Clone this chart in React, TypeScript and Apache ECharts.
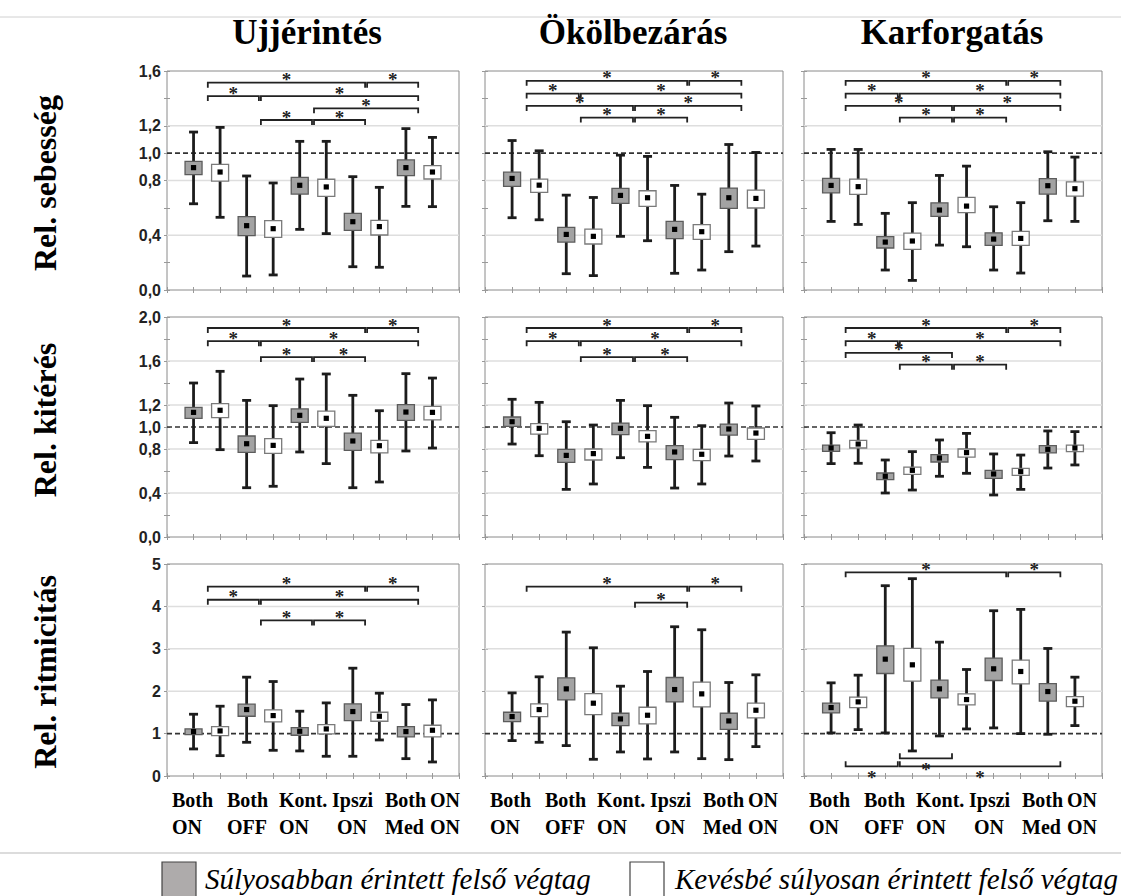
import React, { useEffect, useRef } from "react";
import * as echarts from "echarts";

// Each box: [low whisker, box bottom, centre, box top, high whisker]
const sebessegUjj = [
  [0.63, 0.843, 0.894, 0.94, 1.154],
  [0.531, 0.796, 0.862, 0.918, 1.188],
  [0.102, 0.397, 0.47, 0.536, 0.833],
  [0.11, 0.385, 0.448, 0.507, 0.782],
  [0.443, 0.701, 0.765, 0.823, 1.086],
  [0.412, 0.684, 0.753, 0.809, 1.086],
  [0.17, 0.436, 0.499, 0.56, 0.828],
  [0.166, 0.402, 0.463, 0.509, 0.75],
  [0.611, 0.835, 0.894, 0.95, 1.179],
  [0.609, 0.811, 0.862, 0.908, 1.115],
];
const sebessegOkol = [
  [0.528, 0.757, 0.815, 0.861, 1.092],
  [0.513, 0.713, 0.766, 0.81, 1.017],
  [0.119, 0.35, 0.406, 0.457, 0.693],
  [0.105, 0.336, 0.392, 0.445, 0.676],
  [0.392, 0.633, 0.691, 0.742, 0.985],
  [0.36, 0.611, 0.674, 0.725, 0.976],
  [0.122, 0.375, 0.443, 0.501, 0.764],
  [0.146, 0.37, 0.426, 0.477, 0.7],
  [0.28, 0.596, 0.674, 0.745, 1.063],
  [0.321, 0.599, 0.669, 0.73, 1.005],
];
const sebessegKar = [
  [0.501, 0.71, 0.764, 0.815, 1.027],
  [0.479, 0.698, 0.755, 0.81, 1.027],
  [0.146, 0.307, 0.35, 0.39, 0.56],
  [0.07, 0.297, 0.358, 0.416, 0.638],
  [0.328, 0.538, 0.584, 0.637, 0.837],
  [0.316, 0.565, 0.613, 0.676, 0.905],
  [0.146, 0.326, 0.372, 0.418, 0.608],
  [0.124, 0.326, 0.377, 0.428, 0.638],
  [0.506, 0.7, 0.762, 0.813, 1.01],
  [0.501, 0.686, 0.74, 0.79, 0.971],
];
const kiteresUjj = [
  [0.858, 1.079, 1.133, 1.179, 1.4],
  [0.794, 1.085, 1.152, 1.212, 1.506],
  [0.448, 0.77, 0.848, 0.918, 1.242],
  [0.461, 0.761, 0.833, 0.894, 1.194],
  [0.773, 1.042, 1.106, 1.164, 1.436],
  [0.667, 1.006, 1.079, 1.145, 1.482],
  [0.448, 0.788, 0.873, 0.945, 1.288],
  [0.5, 0.764, 0.83, 0.879, 1.148],
  [0.782, 1.061, 1.136, 1.203, 1.485],
  [0.809, 1.064, 1.133, 1.188, 1.445],
];
const kiteresOkol = [
  [0.845, 1.006, 1.048, 1.091, 1.252],
  [0.739, 0.936, 0.988, 1.03, 1.224],
  [0.433, 0.679, 0.742, 0.797, 1.048],
  [0.482, 0.7, 0.758, 0.8, 1.018],
  [0.721, 0.93, 0.988, 1.036, 1.242],
  [0.633, 0.864, 0.915, 0.967, 1.194],
  [0.445, 0.703, 0.773, 0.83, 1.088],
  [0.482, 0.694, 0.752, 0.797, 1.012],
  [0.736, 0.927, 0.982, 1.027, 1.218],
  [0.691, 0.888, 0.945, 0.991, 1.191],
];
const kiteresKar = [
  [0.667, 0.779, 0.809, 0.836, 0.948],
  [0.67, 0.809, 0.845, 0.879, 1.018],
  [0.4, 0.521, 0.552, 0.582, 0.7],
  [0.427, 0.57, 0.606, 0.636, 0.776],
  [0.552, 0.682, 0.718, 0.748, 0.882],
  [0.579, 0.727, 0.767, 0.8, 0.942],
  [0.382, 0.533, 0.573, 0.606, 0.755],
  [0.433, 0.561, 0.594, 0.624, 0.745],
  [0.627, 0.764, 0.797, 0.83, 0.964],
  [0.655, 0.776, 0.809, 0.836, 0.958],
];
const ritmUjj = [
  [0.638, 0.976, 1.047, 1.11, 1.457],
  [0.48, 0.953, 1.063, 1.165, 1.646],
  [0.795, 1.409, 1.567, 1.693, 2.331],
  [0.606, 1.276, 1.425, 1.559, 2.228],
  [0.591, 0.961, 1.055, 1.142, 1.528],
  [0.465, 0.992, 1.11, 1.213, 1.724],
  [0.465, 1.307, 1.52, 1.701, 2.543],
  [0.85, 1.291, 1.409, 1.504, 1.953],
  [0.409, 0.921, 1.047, 1.165, 1.685],
  [0.331, 0.921, 1.079, 1.197, 1.795],
];
const ritmOkol = [
  [0.835, 1.283, 1.402, 1.504, 1.96],
  [0.795, 1.402, 1.567, 1.701, 2.339],
  [0.717, 1.795, 2.055, 2.315, 3.394],
  [0.394, 1.449, 1.717, 1.945, 3.024],
  [0.567, 1.189, 1.346, 1.48, 2.118],
  [0.402, 1.228, 1.433, 1.622, 2.465],
  [0.567, 1.748, 2.039, 2.323, 3.52],
  [0.409, 1.63, 1.937, 2.213, 3.449],
  [0.386, 1.102, 1.299, 1.48, 2.205],
  [0.693, 1.37, 1.551, 1.717, 2.386],
];
const ritmKar = [
  [1.016, 1.488, 1.614, 1.717, 2.197],
  [1.094, 1.614, 1.748, 1.858, 2.378],
  [1.016, 2.417, 2.756, 3.071, 4.488],
  [0.591, 2.236, 2.622, 3.008, 4.654],
  [0.945, 1.843, 2.055, 2.26, 3.157],
  [1.11, 1.677, 1.803, 1.937, 2.512],
  [1.134, 2.252, 2.528, 2.78, 3.898],
  [1.0, 2.173, 2.465, 2.732, 3.929],
  [0.984, 1.764, 1.992, 2.181, 3.008],
  [1.189, 1.638, 1.764, 1.874, 2.331],
];

// Significance brackets: [from condition pair, to condition pair, level, direction (1 = ticks down, -1 = ticks up)]
const sigSebessegUjj = [[1, 4, 1.515], [4, 5, 1.515], [1, 2, 1.417], [2, 5, 1.417], [3, 5, 1.327], [2, 3, 1.242], [3, 4, 1.242]];
const sigSebessegOkol = [[1, 4, 1.528], [4, 5, 1.528], [1, 2, 1.435], [2, 5, 1.435], [1, 3, 1.345], [3, 5, 1.345], [2, 3, 1.26], [3, 4, 1.26]];
const sigSebessegKar = [[1, 4, 1.528], [4, 5, 1.528], [1, 2, 1.435], [2, 5, 1.435], [1, 3, 1.345], [3, 5, 1.345], [2, 3, 1.26], [3, 4, 1.26]];
const sigKiteresUjj = [[1, 4, 1.9], [4, 5, 1.9], [1, 2, 1.78], [2, 5, 1.78], [2, 3, 1.636], [3, 4, 1.636]];
const sigKiteresOkol = [[1, 4, 1.9], [4, 5, 1.9], [1, 2, 1.78], [2, 5, 1.78], [2, 3, 1.636], [3, 4, 1.636]];
const sigKiteresKar = [[1, 4, 1.9], [4, 5, 1.9], [1, 2, 1.78], [2, 5, 1.78], [1, 3, 1.673], [2, 3, 1.567], [3, 4, 1.567]];
const sigRitmUjj = [[1, 4, 4.465], [4, 5, 4.465], [1, 2, 4.157], [2, 5, 4.157], [2, 3, 3.669], [3, 4, 3.669]];
const sigRitmOkol = [[1, 4, 4.465], [4, 5, 4.465], [3, 4, 4.087]];
const sigRitmKar = [[1, 4, 4.803], [4, 5, 4.803], [1, 2, 0.228, -1], [2, 5, 0.228, -1], [2, 3, 0.417, -1]];

const columnTitles = ["Ujjérintés", "Ökölbezárás", "Karforgatás"];
const rowTitles = ["Rel. sebesség", "Rel. kitérés", "Rel. ritmicitás"];
const conditionLine1 = ["Both", "Both", "Kont.", "Ipszi", "Both", "ON"];
const conditionLine2 = ["ON", "OFF", "ON", "ON", "Med", "ON"];
const legendLabels = ["Súlyosabban érintett felső végtag", "Kevésbé súlyosan érintett felső végtag"];

const yMax = [1.6, 2.0, 5];
const yInterval = [0.2, 0.2, 1];
const yLabelValues = [
  [0, 0.4, 0.8, 1.0, 1.2, 1.6],
  [0, 0.4, 0.8, 1.0, 1.2, 1.6, 2.0],
  [0, 1, 2, 3, 4, 5],
];
const gridValues = [
  [0.4, 0.8, 1.2],
  [0.4, 0.8, 1.2, 1.6],
  [2, 3, 4],
];
const referenceValue = 1;

const panelData = [
  [sebessegUjj, sebessegOkol, sebessegKar],
  [kiteresUjj, kiteresOkol, kiteresKar],
  [ritmUjj, ritmOkol, ritmKar],
];
const panelSig = [
  [sigSebessegUjj, sigSebessegOkol, sigSebessegKar],
  [sigKiteresUjj, sigKiteresOkol, sigKiteresKar],
  [sigRitmUjj, sigRitmOkol, sigRitmKar],
];

// layout (pixels)
const colLeft = [167, 485, 804];
const colWidth = [292, 298, 298];
const rowTop = [71, 317, 564];
const rowHeight = [219, 220, 212];
const titleX = [307, 633, 952];
const rowTitleY = [183, 420, 672];
const line1Offsets = [5, 60, 112, 165, 218, 263];
const line2Offsets = [5, 60, 112, 170, 218, 263];

const SERIF = "'Liberation Serif', 'Times New Roman', serif";
const SANS = "'Liberation Sans', Arial, sans-serif";

const renderBox = (params: any, api: any) => {
  const x = api.value(0);
  const lo = api.coord([x, api.value(1)]);
  const b1 = api.coord([x, api.value(2)]);
  const c = api.coord([x, api.value(3)]);
  const b2 = api.coord([x, api.value(4)]);
  const hi = api.coord([x, api.value(5)]);
  const gray = api.value(6) === 0;
  const cx = lo[0];
  const w = 17;
  const cap = 9;
  const ink = "#1c1c1c";
  return {
    type: "group",
    children: [
      { type: "line", shape: { x1: cx, y1: hi[1], x2: cx, y2: lo[1] }, style: { stroke: ink, lineWidth: 2.8 } },
      { type: "line", shape: { x1: cx - cap / 2, y1: hi[1], x2: cx + cap / 2, y2: hi[1] }, style: { stroke: ink, lineWidth: 2.8 } },
      { type: "line", shape: { x1: cx - cap / 2, y1: lo[1], x2: cx + cap / 2, y2: lo[1] }, style: { stroke: ink, lineWidth: 2.8 } },
      {
        type: "rect",
        shape: { x: cx - w / 2, y: b2[1], width: w, height: b1[1] - b2[1] },
        style: { fill: gray ? "#a3a3a3" : "#ffffff", stroke: gray ? "#5c5c5c" : "#7a7a7a", lineWidth: 1.3 },
      },
      { type: "rect", shape: { x: cx - 2.6, y: c[1] - 2.6, width: 5.2, height: 5.2 }, style: { fill: "#000" } },
    ],
  };
};

const renderBracket = (params: any, api: any) => {
  const x1 = api.value(0);
  const x2 = api.value(1);
  const y = api.value(2);
  const dir = api.value(3);
  const shift = api.value(4);
  const p1 = api.coord([x1, y]);
  const p2 = api.coord([x2, y]);
  const t = 5 * dir;
  return {
    type: "group",
    children: [
      {
        type: "polyline",
        shape: { points: [[p1[0] + 1, p1[1] + t], [p1[0] + 1, p1[1]], [p2[0] - 1, p2[1]], [p2[0] - 1, p2[1] + t]] },
        style: { stroke: "#222", lineWidth: 1.8, fill: "none" },
      },
      {
        type: "text",
        x: (p1[0] + p2[0]) / 2 + shift,
        y: dir > 0 ? p1[1] - 3 : p1[1] + 11,
        style: { text: "*", fontSize: 19, fontWeight: "bold", fontFamily: SERIF, fill: "#222", align: "center", verticalAlign: "middle" },
      },
    ],
  };
};

const renderGridLine = (params: any, api: any) => {
  const v = api.value(0);
  const dashed = api.value(1) === 1;
  const cs = params.coordSys;
  const y = api.coord([0, v])[1];
  return {
    type: "line",
    shape: { x1: cs.x, y1: y, x2: cs.x + cs.width, y2: y },
    style: dashed ? { stroke: "#333", lineWidth: 1.6, lineDash: [5, 3] } : { stroke: "#dedede", lineWidth: 1.5 },
  };
};

export default function App() {
  const ref = useRef<HTMLDivElement>(null);
  useEffect(() => {
    if (!ref.current) return;
    const chart = echarts.init(ref.current, undefined, { renderer: "svg" });
    const grids: any[] = [];
    const xAxes: any[] = [];
    const yAxes: any[] = [];
    const series: any[] = [];
    const tickStyle = { show: true, inside: true, length: 3, lineStyle: { color: "#999" } };
    for (let r = 0; r < 3; r++) {
      for (let c = 0; c < 3; c++) {
        const g = grids.length;
        grids.push({
          left: colLeft[c], top: rowTop[r], width: colWidth[c], height: rowHeight[r],
          show: true, borderColor: "#8a8a8a", borderWidth: 1, backgroundColor: "transparent",
        });
        const xBase = { type: "value", gridIndex: g, min: 0, max: 11, interval: 1, axisLine: { show: false }, axisLabel: { show: false }, splitLine: { show: false }, axisTick: tickStyle };
        xAxes.push({ ...xBase, position: "bottom" });
        xAxes.push({ ...xBase, position: "top" });
        const labels = yLabelValues[r];
        const yBase = {
          type: "value", gridIndex: g, min: 0, max: yMax[r], interval: yInterval[r],
          axisLine: { show: false }, splitLine: { show: false }, axisTick: tickStyle,
        };
        yAxes.push({
          ...yBase, position: "left",
          axisLabel: {
            show: c === 0, margin: 6, fontFamily: SANS, fontWeight: "bold", fontSize: 16, color: "#222",
            formatter: (v: number) => {
              const hit = labels.some((l) => Math.abs(l - v) < 1e-6);
              if (!hit) return "";
              return r === 2 ? String(Math.round(v)) : v.toFixed(1).replace(".", ",");
            },
          },
        });
        yAxes.push({ ...yBase, position: "right", axisLabel: { show: false } });
        const xi = 2 * g;
        const yi = 2 * g;
        series.push({
          type: "custom", xAxisIndex: xi, yAxisIndex: yi, z: 1, silent: true,
          renderItem: renderGridLine,
          data: gridValues[r].map((v) => [v, 0]),
        });
        series.push({
          type: "custom", xAxisIndex: xi, yAxisIndex: yi, z: 2, silent: true,
          renderItem: renderGridLine,
          data: [[referenceValue, 1]],
        });
        series.push({
          type: "custom", xAxisIndex: xi, yAxisIndex: yi, z: 3, silent: true,
          renderItem: renderBox,
          data: panelData[r][c].map((b, i) => [i + 1, b[0], b[1], b[2], b[3], b[4], i % 2]),
        });
        const pxPerUnit = rowHeight[r] / yMax[r];
        const brackets = panelSig[r][c].map((s: number[]) => ({
          x1: 2 * s[0] - 0.5, x2: 2 * s[1] - 0.5, y: s[2], d: s.length > 3 ? s[3] : 1,
        }));
        const bracketData = brackets.map((b, i) => {
          const mid = (b.x1 + b.x2) / 2;
          let shift = 0;
          brackets.forEach((o, j) => {
            if (j === i) return;
            const om = (o.x1 + o.x2) / 2;
            if (Math.abs(om - mid) < 0.3 && Math.abs(o.y - b.y) * pxPerUnit < 20) {
              shift = b.x2 - b.x1 > o.x2 - o.x1 ? -6 : 4;
            }
          });
          return [b.x1, b.x2, b.y, b.d, shift];
        });
        series.push({
          type: "custom", xAxisIndex: xi, yAxisIndex: yi, z: 4, silent: true,
          renderItem: renderBracket,
          data: bracketData,
        });
      }
    }

    const graphics: any[] = [];
    graphics.push({ type: "line", shape: { x1: 0, y1: 17, x2: 1121, y2: 17 }, style: { stroke: "#d0d0d0", lineWidth: 1 } });
    graphics.push({ type: "line", shape: { x1: 0, y1: 853, x2: 1121, y2: 853 }, style: { stroke: "#d0d0d0", lineWidth: 1.5 } });
    columnTitles.forEach((t, i) => {
      graphics.push({
        type: "text", x: titleX[i], y: 32,
        style: { text: t, fontFamily: SERIF, fontWeight: "bold", fontSize: 35, fill: "#000", align: "center", verticalAlign: "middle" },
      });
    });
    rowTitles.forEach((t, i) => {
      graphics.push({
        type: "text", x: 45, y: rowTitleY[i], rotation: Math.PI / 2,
        style: { text: t, fontFamily: SERIF, fontWeight: "bold", fontSize: 32, fill: "#000", align: "center", verticalAlign: "middle" },
      });
    });
    for (let c = 0; c < 3; c++) {
      conditionLine1.forEach((t, k) => {
        graphics.push({
          type: "text", x: colLeft[c] + line1Offsets[k], y: 800,
          style: { text: t, fontFamily: SERIF, fontWeight: "bold", fontSize: 20, fill: "#000", align: "left", verticalAlign: "middle" },
        });
        graphics.push({
          type: "text", x: colLeft[c] + line2Offsets[k], y: 827,
          style: { text: conditionLine2[k], fontFamily: SERIF, fontWeight: "bold", fontSize: 20, fill: "#000", align: "left", verticalAlign: "middle" },
        });
      });
    }
    graphics.push({ type: "rect", shape: { x: 162, y: 862, width: 34, height: 40 }, style: { fill: "#aeabab", stroke: "#444", lineWidth: 1.2 } });
    graphics.push({ type: "rect", shape: { x: 630, y: 862, width: 34, height: 40 }, style: { fill: "#fff", stroke: "#444", lineWidth: 1.2 } });
    graphics.push({
      type: "text", x: 205, y: 879,
      style: { text: legendLabels[0], fontFamily: SERIF, fontStyle: "italic", fontSize: 29, fill: "#000", align: "left", verticalAlign: "middle" },
    });
    graphics.push({
      type: "text", x: 675, y: 879,
      style: { text: legendLabels[1], fontFamily: SERIF, fontStyle: "italic", fontSize: 29, fill: "#000", align: "left", verticalAlign: "middle" },
    });

    chart.setOption({
      animation: false,
      backgroundColor: "#fff",
      grid: grids,
      xAxis: xAxes,
      yAxis: yAxes,
      series,
      graphic: graphics,
    });
    return () => chart.dispose();
  }, []);
  return <div ref={ref} style={{ position: "absolute", left: 0, top: 0, width: 1121, height: 896 }} />;
}
